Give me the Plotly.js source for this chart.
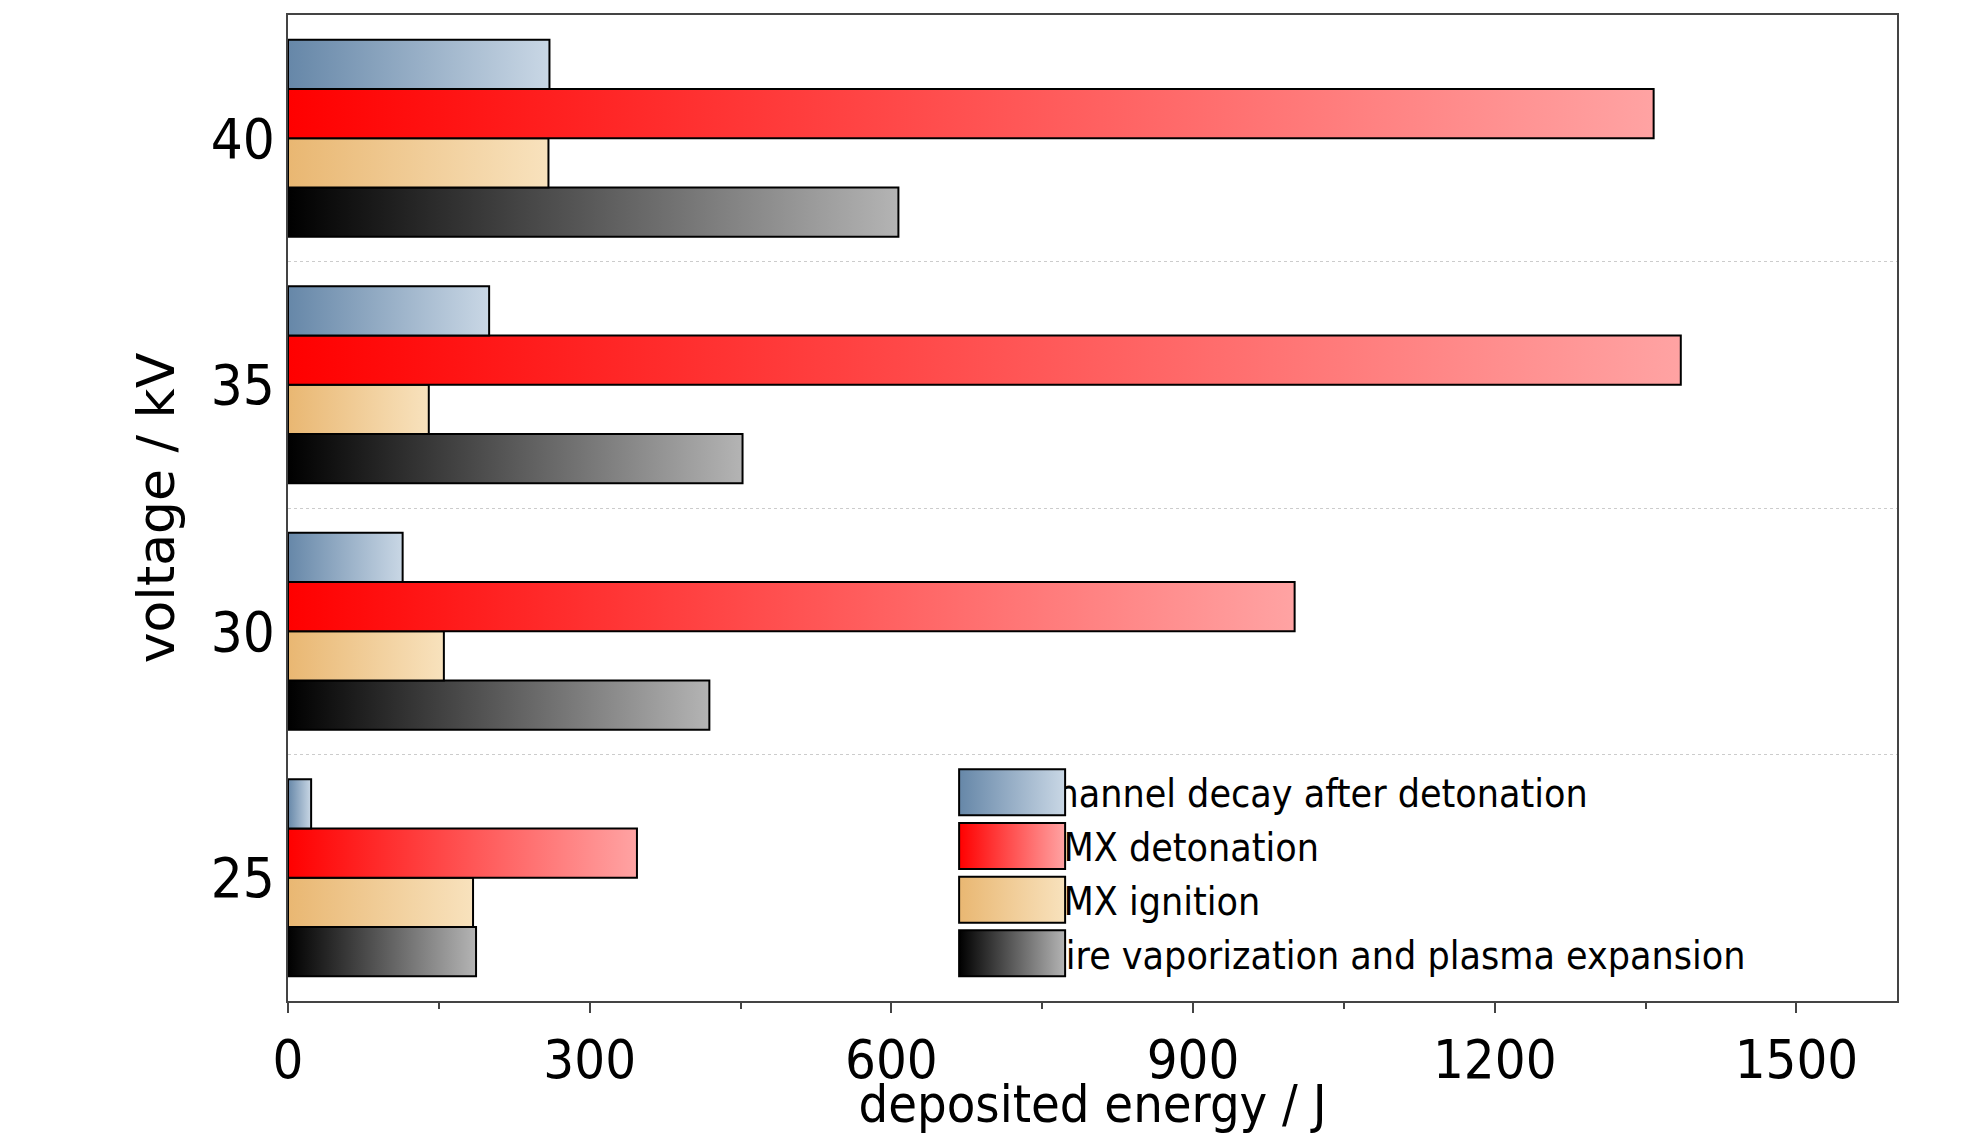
<!DOCTYPE html>
<html>
<head>
<meta charset="utf-8">
<script src="https://cdn.plot.ly/plotly-3.0.1.min.js"></script>
<style>body{margin:0;background:#fff}#chart{width:1984px;height:1134px}</style>
</head>
<body>
<div id="chart"></div>
<script>
var voltages = [25, 30, 35, 40];
var channelDecay = [23, 114, 200, 260];
var hmxDetonation = [347, 1001, 1385, 1358];
var hmxIgnition = [184, 155, 140, 259];
var wireVapor = [187, 419, 452, 607];

var names = ['wire vaporization and plasma expansion', 'HMX ignition', 'HMX detonation', 'channel decay after detonation'];
var values = [wireVapor, hmxIgnition, hmxDetonation, channelDecay];
var keyColors = ['rgb(1, 2, 3)', 'rgb(4, 5, 6)', 'rgb(7, 8, 9)', 'rgb(10, 11, 12)'];
var gradients = [['#000000', '#b4b4b4'], ['#e9b772', '#f8e2bd'], ['#ff0000', '#ffa3a3'], ['#6687a8', '#c9d7e5']];

var data = names.map(function (n, i) {
  return {
    type: 'bar', orientation: 'h', name: n,
    y: voltages, x: values[i],
    marker: {color: keyColors[i], line: {color: '#000', width: 2}}
  };
});
data.push({x: [0], y: [25], yaxis: 'y2', type: 'scatter', mode: 'markers', marker: {opacity: 0}, showlegend: false, hoverinfo: 'skip'});

var layout = {
  width: 1984, height: 1134,
  margin: {l: 288, r: 87, t: 15, b: 133},
  barmode: 'group', bargap: 0.2, bargroupgap: 0,
  plot_bgcolor: '#fff', paper_bgcolor: '#fff',
  font: {family: 'Liberation Sans Narrow, DejaVu Sans Condensed, Liberation Sans', color: '#000'},
  xaxis: {
    range: [0, 1600], tickvals: [0, 300, 600, 900, 1200, 1500], ticks: 'outside', ticklen: 10, tickwidth: 2,
    minor: {dtick: 150, ticks: 'outside', ticklen: 6, tickwidth: 2},
    showgrid: false, zeroline: false, showline: true, linewidth: 2, mirror: true,
    tickfont: {size: 54},
    title: {text: 'deposited energy / J', font: {size: 52}, standoff: 4}
  },
  yaxis: {
    range: [22.5, 42.5], tickvals: voltages, ticks: '', showgrid: false, zeroline: false,
    showline: true, linewidth: 2, mirror: true, tickfont: {size: 56},
    title: {text: 'voltage / kV', font: {size: 52, family: 'DejaVu Sans, Liberation Sans'}, standoff: 20}
  },
  yaxis2: {
    overlaying: 'y', range: [22.5, 42.5], tickvals: [27.5, 32.5, 37.5], showticklabels: false,
    showgrid: true, gridcolor: '#cccccc', griddash: 'dot', gridwidth: 1, zeroline: false, layer: 'below traces'
  },
  legend: {
    x: 0.391, y: 0.244, xanchor: 'left', yanchor: 'top', traceorder: 'reversed',
    font: {size: 39}, itemwidth: 110, tracegroupgap: 0, bgcolor: 'rgba(0,0,0,0)'
  }
};

Plotly.newPlot('chart', data, layout, {staticPlot: true}).then(function (gd) {
  var ns = 'http://www.w3.org/2000/svg';
  var svg = gd.querySelector('svg.main-svg');
  var defs = svg.querySelector('defs');
  gradients.forEach(function (g, i) {
    var lg = document.createElementNS(ns, 'linearGradient');
    lg.setAttribute('id', 'grad' + i);
    lg.setAttribute('x1', '0'); lg.setAttribute('x2', '1');
    lg.setAttribute('y1', '0'); lg.setAttribute('y2', '0');
    [[0, g[0]], [1, g[1]]].forEach(function (s) {
      var st = document.createElementNS(ns, 'stop');
      st.setAttribute('offset', s[0]);
      st.setAttribute('stop-color', s[1]);
      lg.appendChild(st);
    });
    defs.appendChild(lg);
  });
  gd.querySelectorAll('path').forEach(function (p) {
    var f = p.style.fill;
    var i = keyColors.indexOf(f);
    if (i >= 0) p.style.fill = 'url(#grad' + i + ')';
  });
  gd.querySelectorAll('.legendpoints path').forEach(function (p) {
    p.setAttribute('d', 'M-18,-23h106v46h-106z');
    p.style.strokeWidth = '2px';
  });
});
</script>
</body>
</html>
